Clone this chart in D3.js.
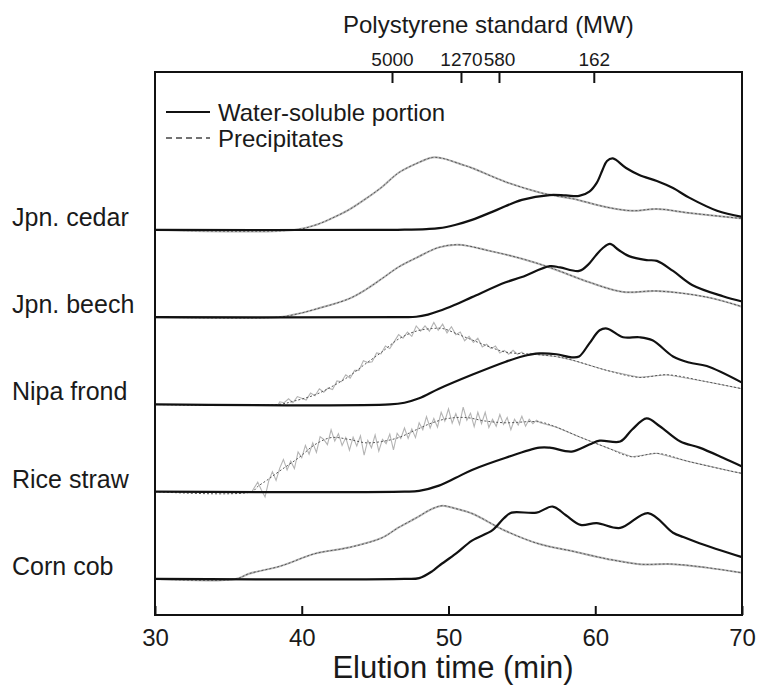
<!DOCTYPE html>
<html>
<head>
<meta charset="utf-8">
<script src="https://cdn.jsdelivr.net/npm/d3@7"></script>
<style>
  body { margin: 0; background: #fff; }
  svg { display: block; font-family: "Liberation Sans", Arial, sans-serif; }
</style>
</head>
<body>
<div id="chart"></div>
<script>
// samples, top to bottom
var samples = ["Jpn. cedar", "Jpn. beech", "Nipa frond", "Rice straw", "Corn cob"];
var offsets = [4, 3, 2, 1, 0];

// top axis: polystyrene standards
var psTimes = [46.15, 50.85, 53.44, 59.9];
var psLabels = ["5000", "1270", "580", "162"];
var timeTicks = [30, 40, 50, 60, 70];

// [elution time (min), relative intensity]
var cedarWater = [[30,0],[45,0],[47,0.003],[48.5,0.01],[49.35,0.02],[50.5,0.06],[51.6,0.115],[53.3,0.23],[55.0,0.345],[56.9,0.40],[58.0,0.395],[58.9,0.39],[59.6,0.44],[60.1,0.54],[60.5,0.69],[60.8,0.79],[61.2,0.82],[62.1,0.71],[63.0,0.63],[64.2,0.56],[65.3,0.48],[66.4,0.37],[68.3,0.22],[70,0.15]];
var cedarPrec = [[30,0],[39.5,0],[41,0.06],[42,0.13],[43.2,0.23],[44.3,0.35],[45.45,0.49],[46.6,0.655],[47.8,0.76],[48.9,0.83],[49.6,0.82],[50.9,0.75],[51.6,0.71],[53.9,0.55],[56.2,0.43],[57.0,0.40],[58.4,0.36],[60.8,0.26],[62.5,0.22],[64.2,0.24],[66.4,0.195],[70,0.13]];

var beechWater = [[30,0],[47,0],[47.8,0.005],[48.6,0.03],[49.35,0.07],[50.4,0.14],[51.6,0.23],[53.9,0.40],[55.0,0.46],[56.9,0.585],[57.6,0.57],[58.9,0.53],[59.5,0.60],[60.0,0.70],[60.5,0.79],[61.0,0.84],[61.6,0.77],[62.3,0.70],[63.5,0.655],[64.2,0.645],[65.3,0.53],[66.6,0.37],[68.7,0.24],[70,0.18]];
var beechPrec = [[30,0],[38.4,0],[39.5,0.03],[40.9,0.09],[43.2,0.21],[44.4,0.32],[45.45,0.44],[46.6,0.575],[47.8,0.68],[49.35,0.80],[50.7,0.83],[52.8,0.76],[55.0,0.67],[56.9,0.57],[59.6,0.40],[61.9,0.29],[64.2,0.30],[67.6,0.23],[70,0.12]];

var nipaWater = [[30,0],[46,0],[47,0.02],[48,0.07],[49.35,0.18],[51.6,0.34],[53.9,0.49],[55.0,0.55],[56.2,0.585],[57.35,0.575],[58.4,0.54],[58.9,0.55],[59.6,0.70],[60.3,0.85],[60.8,0.87],[61.9,0.77],[63.0,0.77],[63.9,0.735],[65.3,0.55],[66.4,0.48],[67.6,0.44],[70,0.25]];
var nipaPrec = [[30,0],[38.4,0],[39.5,0.04],[40.9,0.11],[42,0.2],[43.2,0.32],[44.3,0.46],[45.45,0.60],[46.6,0.75],[47.8,0.84],[48.9,0.87],[49.6,0.87],[50.7,0.80],[51.6,0.74],[52.8,0.66],[53.9,0.60],[55.8,0.575],[57.3,0.55],[58.4,0.51],[60.8,0.39],[63.0,0.31],[64.9,0.34],[67.6,0.26],[70,0.18]];
var nipaNoisy = [[38.5,0.03],[38.8,0.02],[39.1,0.065],[39.4,0.02],[39.7,0.09],[40.0,0.07],[40.3,0.05],[40.6,0.13],[40.9,0.10],[41.2,0.18],[41.5,0.14],[41.8,0.19],[42.1,0.17],[42.4,0.27],[42.7,0.26],[43.0,0.34],[43.3,0.30],[43.6,0.39],[43.9,0.39],[44.2,0.50],[44.5,0.48],[44.8,0.49],[45.1,0.59],[45.4,0.58],[45.7,0.67],[46.0,0.64],[46.3,0.72],[46.6,0.80],[46.9,0.76],[47.2,0.83],[47.5,0.78],[47.8,0.90],[48.1,0.84],[48.4,0.90],[48.7,0.84],[49.0,0.94],[49.3,0.85],[49.6,0.92],[49.9,0.82],[50.2,0.89],[50.5,0.80],[50.8,0.83],[51.1,0.73],[51.4,0.78],[51.7,0.71],[52.0,0.76],[52.3,0.66],[52.6,0.69],[52.9,0.64],[53.2,0.67],[53.5,0.59],[53.8,0.62],[54.1,0.575],[54.4,0.62],[54.7,0.575],[55.0,0.60],[55.3,0.56],[55.6,0.585]];

var riceWater = [[30,0],[47,0],[48,0.01],[49.35,0.07],[50.5,0.16],[51.6,0.25],[53.9,0.39],[56.2,0.505],[56.9,0.505],[58.4,0.46],[59.6,0.54],[60.3,0.585],[61.7,0.575],[62.5,0.71],[63.5,0.84],[64.4,0.75],[65.8,0.575],[67.1,0.505],[68.7,0.39],[70,0.29]];
var ricePrec = [[30,0],[36.6,0],[37.0,0.06],[37.7,0.14],[38.6,0.25],[39.8,0.39],[40.9,0.54],[42.0,0.62],[43.2,0.60],[44.4,0.56],[45.45,0.575],[46.6,0.62],[47.8,0.71],[48.9,0.79],[50.0,0.84],[51.2,0.85],[52.5,0.81],[53.9,0.79],[56.2,0.80],[57.35,0.74],[58.9,0.63],[60.8,0.505],[62.5,0.40],[64.2,0.44],[66.4,0.345],[69.4,0.23],[70,0.21]];
var riceNoisy = [[37.0,0.11],[37.25,0.02],[37.5,-0.06],[37.75,0.125],[38.0,0.23],[38.25,0.13],[38.5,0.27],[38.75,0.37],[39.0,0.25],[39.25,0.35],[39.5,0.265],[39.75,0.455],[40.0,0.39],[40.25,0.53],[40.5,0.43],[40.75,0.56],[41.0,0.45],[41.25,0.63],[41.5,0.60],[41.75,0.54],[42.0,0.71],[42.25,0.58],[42.5,0.665],[42.75,0.53],[43.0,0.62],[43.25,0.475],[43.5,0.625],[43.75,0.525],[44.0,0.64],[44.25,0.42],[44.5,0.59],[44.75,0.505],[45.0,0.65],[45.25,0.465],[45.5,0.60],[45.75,0.55],[46.0,0.66],[46.25,0.48],[46.5,0.67],[46.75,0.61],[47.0,0.73],[47.25,0.61],[47.5,0.72],[47.75,0.62],[48.0,0.79],[48.25,0.71],[48.5,0.86],[48.75,0.73],[49.0,0.84],[49.25,0.74],[49.5,0.91],[49.75,0.81],[50.0,0.95],[50.25,0.785],[50.5,0.895],[50.75,0.77],[51.0,0.97],[51.25,0.82],[51.5,0.90],[51.75,0.745],[52.0,0.91],[52.25,0.78],[52.5,0.91],[52.75,0.735],[53.0,0.83],[53.25,0.75],[53.5,0.885],[53.75,0.77],[54.0,0.85],[54.25,0.71],[54.5,0.83],[54.75,0.765],[55.0,0.865],[55.25,0.75],[55.5,0.83],[55.75,0.78],[56.0,0.82],[56.25,0.79]];

var cornWater = [[30,0],[47,0],[48,0.01],[48.9,0.09],[49.35,0.15],[50.5,0.29],[51.6,0.44],[53.0,0.56],[53.8,0.70],[54.3,0.76],[56.0,0.76],[57.1,0.83],[58.0,0.73],[59.0,0.62],[60.1,0.64],[61.7,0.585],[63.6,0.755],[65.3,0.53],[66.0,0.48],[67.1,0.41],[70,0.25]];
var cornPrec = [[30,0],[35.5,0],[36.4,0.06],[38.6,0.15],[40.9,0.29],[43.2,0.36],[45.45,0.47],[46.6,0.59],[47.8,0.70],[48.9,0.805],[49.6,0.84],[50.4,0.81],[51.6,0.75],[53.9,0.55],[56.2,0.40],[58.4,0.32],[60.8,0.23],[63.0,0.17],[65.3,0.17],[67.6,0.13],[70,0.07]];

var water = [cedarWater, beechWater, nipaWater, riceWater, cornWater];
var prec = [cedarPrec, beechPrec, nipaPrec, ricePrec, cornPrec];
var noisy = [null, null, nipaNoisy, riceNoisy, null];

var W = 758, H = 686;
var plotL = 155, plotR = 742, plotT = 72, plotB = 615;

var svg = d3.select("#chart").append("svg")
  .attr("width", W)
  .attr("height", H);

var x = d3.scaleLinear().domain([30, 70]).range([plotL, plotR]);
var y = d3.scaleLinear().domain([-0.413, 5.81]).range([plotB, plotT]);

// gray trace: smooth part outside the noisy stretch, noisy stretch itself
function grayTrace(i) {
  var n = noisy[i];
  if (!n) return prec[i];
  var t0 = n[0][0], t1 = n[n.length - 1][0];
  return prec[i].filter(function (d) { return d[0] < t0; })
    .concat(n)
    .concat(prec[i].filter(function (d) { return d[0] > t1; }));
}

samples.forEach(function (name, i) {
  var off = offsets[i];
  var smooth = d3.line()
    .x(function (d) { return x(d[0]); })
    .y(function (d) { return y(d[1] + off); })
    .curve(d3.curveCatmullRom.alpha(0.5));
  var jag = d3.line()
    .x(function (d) { return x(d[0]); })
    .y(function (d) { return y(d[1] + off); })
    .curve(noisy[i] ? d3.curveLinear : d3.curveCatmullRom.alpha(0.5));

  svg.append("path")
    .attr("d", jag(grayTrace(i)))
    .attr("fill", "none")
    .attr("stroke", "#b4b4b4")
    .attr("stroke-width", noisy[i] ? 1.1 : 2);

  svg.append("path")
    .attr("d", smooth(prec[i]))
    .attr("fill", "none")
    .attr("stroke", "#555")
    .attr("stroke-width", 1)
    .attr("stroke-dasharray", "2,2");

  svg.append("path")
    .attr("d", smooth(water[i]))
    .attr("fill", "none")
    .attr("stroke", "#111")
    .attr("stroke-width", 2.2);

  svg.append("text")
    .attr("x", 12)
    .attr("y", y(off) - 4)
    .attr("font-size", 25)
    .attr("fill", "#1a1a1a")
    .text(name);
});

// frame
svg.append("rect")
  .attr("x", plotL).attr("y", plotT)
  .attr("width", plotR - plotL).attr("height", plotB - plotT)
  .attr("fill", "none")
  .attr("stroke", "#111")
  .attr("stroke-width", 2);

var xAxis = svg.append("g")
  .attr("transform", "translate(0," + plotB + ")")
  .call(d3.axisBottom(x).tickValues(timeTicks).tickSize(-9).tickSizeOuter(0).tickPadding(14));

var topAxis = svg.append("g")
  .attr("transform", "translate(0," + plotT + ")")
  .call(d3.axisTop(x).tickValues(psTimes)
    .tickFormat(function (d, i) { return psLabels[i]; })
    .tickSize(-11).tickSizeOuter(0).tickPadding(6));

xAxis.select(".domain").remove();
topAxis.select(".domain").remove();
xAxis.selectAll("line").attr("stroke", "#111").attr("stroke-width", 2);
topAxis.selectAll("line").attr("stroke", "#111").attr("stroke-width", 2);
xAxis.selectAll("text").attr("font-size", 24).attr("fill", "#1a1a1a")
  .style("font-family", "'Liberation Sans', Arial, sans-serif");
topAxis.selectAll("text").attr("font-size", 19).attr("fill", "#1a1a1a")
  .style("font-family", "'Liberation Sans', Arial, sans-serif");

svg.append("text")
  .attr("x", 343).attr("y", 33)
  .attr("font-size", 24)
  .attr("fill", "#1a1a1a")
  .text("Polystyrene standard (MW)");

svg.append("text")
  .attr("x", 453).attr("y", 678)
  .attr("text-anchor", "middle")
  .attr("font-size", 31)
  .attr("fill", "#1a1a1a")
  .text("Elution time (min)");

// legend
var legend = [
  { label: "Water-soluble portion", dash: null, color: "#111", y: 112 },
  { label: "Precipitates", dash: "6,4", color: "#444", y: 138 }
];
legend.forEach(function (d) {
  svg.append("line")
    .attr("x1", 166).attr("x2", 210)
    .attr("y1", d.y).attr("y2", d.y)
    .attr("stroke", d.color)
    .attr("stroke-width", d.dash ? 1.5 : 2)
    .attr("stroke-dasharray", d.dash);
  svg.append("text")
    .attr("x", 218).attr("y", d.y + 8.5)
    .attr("font-size", 24)
    .attr("fill", "#1a1a1a")
    .text(d.label);
});
</script>
</body>
</html>
